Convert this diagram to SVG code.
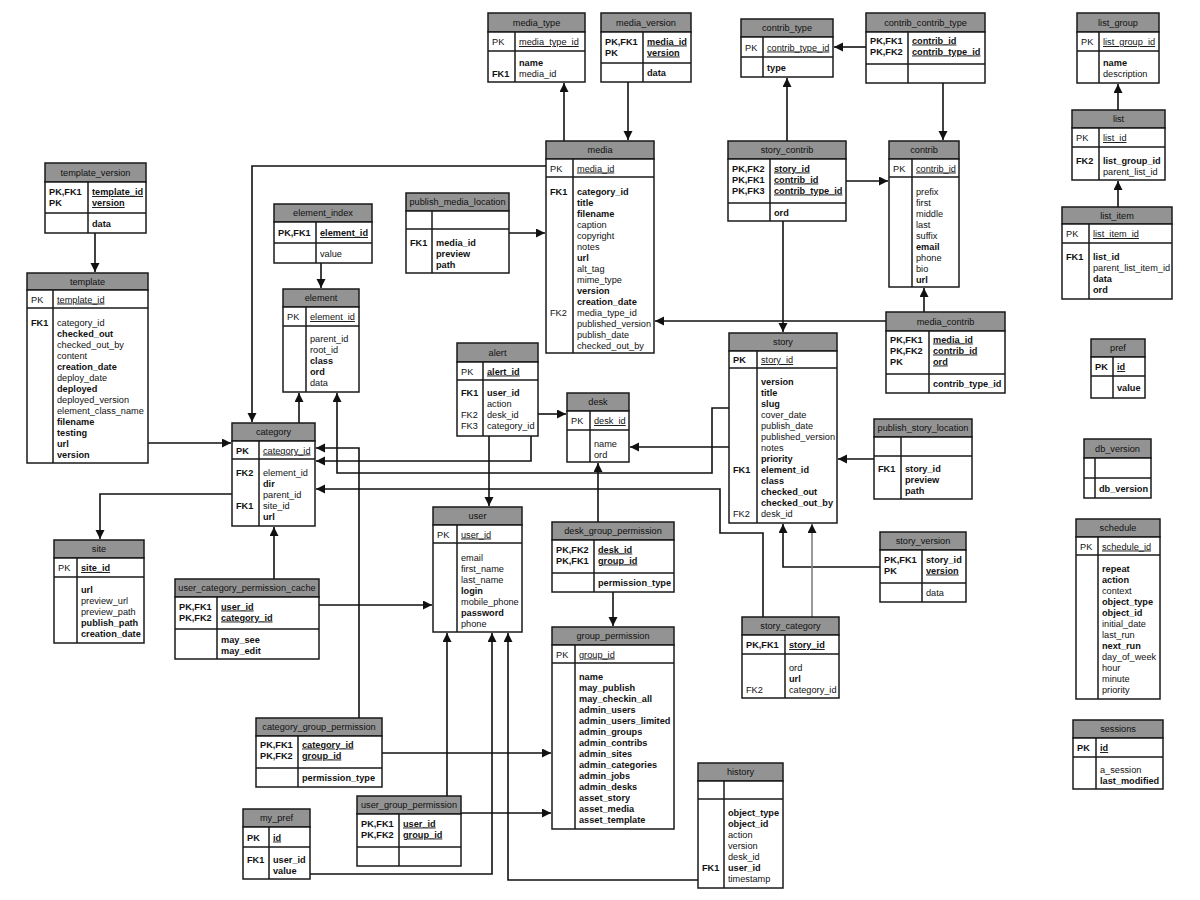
<svg xmlns="http://www.w3.org/2000/svg" width="1200" height="900" viewBox="0 0 1200 900">
<defs>
<style>
.hd{fill:#939393;stroke:#1a1a1a;stroke-width:1.5}
.bx{fill:#fff;stroke:#1a1a1a;stroke-width:1.5}
.dv{fill:none;stroke:#1a1a1a;stroke-width:1.5}
text{font-family:"Liberation Sans",Arial,sans-serif;font-size:9.2px;fill:#111}
.h{text-anchor:middle}
.b{font-weight:bold}
.n{font-weight:normal}
.u{text-decoration:underline}
.cn{fill:none;stroke:#111;stroke-width:1.6;marker-end:url(#ar)}
.cg{stroke:#808080}
</style>
<marker id="ar" markerUnits="userSpaceOnUse" markerWidth="10" markerHeight="10" refX="9" refY="4.5" orient="auto">
<path d="M0,0 L9,4.5 L0,9 z" fill="#111"/>
</marker>
</defs>
<rect width="1200" height="900" fill="#fff"/>

<g id="connectors">
<path class="cn" d="M95 233V272"/>
<path class="cn" d="M148 443H231"/>
<path class="cn" d="M546 166H252V422"/>
<path class="cn" d="M321 263V288"/>
<path class="cn" d="M299 423V393"/>
<path class="cn" d="M729 408H712V473H337V393"/>
<path class="cn" d="M729 447H630"/>
<path class="cn" d="M763 617V533H720V489H316"/>
<path class="cn" d="M359 718V448H316"/>
<path class="cn" d="M382 753H551"/>
<path class="cn" d="M461 813H551"/>
<path class="cn" d="M447 796V633"/>
<path class="cn" d="M310 874H492V633"/>
<path class="cn" d="M698 880H508V633"/>
<path class="cn" d="M319 605H432"/>
<path class="cn" d="M274 579V527"/>
<path class="cn" d="M232 494H100V539"/>
<path class="cn" d="M489 436V506"/>
<path class="cn" d="M538 414H566"/>
<path class="cn" d="M531 436V461H316"/>
<path class="cn" d="M598 522V463"/>
<path class="cn" d="M613 592V626"/>
<path class="cn" d="M783 221V332"/>
<path class="cn" d="M787 141V78"/>
<path class="cn" d="M846 181H888"/>
<path class="cn" d="M866 47H834"/>
<path class="cn" d="M943 83V140"/>
<path class="cn" d="M924 312V288"/>
<path class="cn" d="M886 321H655"/>
<path class="cn" d="M874 459H838"/>
<path class="cn" d="M880 567H783V524"/>
<path class="cn cg" d="M812 617V524"/>
<path class="cn" d="M628 82V140"/>
<path class="cn" d="M564 141V83"/>
<path class="cn" d="M509 233H545"/>
<path class="cn" d="M1118 110V84"/>
<path class="cn" d="M1118 207V181"/>
</g>

<g id="template_version">
<rect class="hd" x="45" y="163" width="101" height="19"/>
<rect class="bx" x="45" y="182" width="101" height="51"/>
<path class="dv" d="M45 213H146M88 182V233"/>
<text class="h" x="95.5" y="176">template_version</text>
<text class="b" x="49" y="195">PK,FK1<tspan x="49" dy="11">PK</tspan></text>
<text class="b u" x="92" y="195">template_id<tspan x="92" dy="11">version</tspan></text>
<text class="b" x="92" y="226.5">data</text>
</g>

<g id="template">
<rect class="hd" x="27" y="273" width="121" height="17"/>
<rect class="bx" x="27" y="290" width="121" height="173"/>
<path class="dv" d="M27 308H148M53 290V463"/>
<text class="h" x="87.5" y="285">template</text>
<text x="31" y="302.5">PK</text>
<text class="u" x="57" y="302.5">template_id</text>
<text class="b" x="31" y="325.5">FK1</text>
<text x="57" y="325.5">category_id<tspan class="b" x="57" dy="11">checked_out</tspan><tspan x="57" dy="11">checked_out_by</tspan><tspan x="57" dy="11">content</tspan><tspan class="b" x="57" dy="11">creation_date</tspan><tspan x="57" dy="11">deploy_date</tspan><tspan class="b" x="57" dy="11">deployed</tspan><tspan x="57" dy="11">deployed_version</tspan><tspan x="57" dy="11">element_class_name</tspan><tspan class="b" x="57" dy="11">filename</tspan><tspan class="b" x="57" dy="11">testing</tspan><tspan class="b" x="57" dy="11">url</tspan><tspan class="b" x="57" dy="11">version</tspan></text>
</g>

<g id="element_index">
<rect class="hd" x="274" y="204" width="98" height="18"/>
<rect class="bx" x="274" y="222" width="98" height="41"/>
<path class="dv" d="M274 243H372M316 222V263"/>
<text class="h" x="323" y="216.3">element_index</text>
<text class="b" x="278" y="236">PK,FK1</text>
<text class="b u" x="320" y="236">element_id</text>
<text x="320" y="256.5">value</text>
</g>

<g id="element">
<rect class="hd" x="283" y="289" width="76" height="18"/>
<rect class="bx" x="283" y="307" width="76" height="85"/>
<path class="dv" d="M283 326H359M306 307V392"/>
<text class="h" x="321" y="301.3">element</text>
<text x="287" y="320">PK</text>
<text class="u" x="310" y="320">element_id</text>
<text x="310" y="341.5">parent_id<tspan x="310" dy="11">root_id</tspan><tspan class="b" x="310" dy="11">class</tspan><tspan class="b" x="310" dy="11">ord</tspan><tspan x="310" dy="11">data</tspan></text>
</g>

<g id="category">
<rect class="hd" x="232" y="423" width="83" height="18"/>
<rect class="bx" x="232" y="441" width="83" height="85"/>
<path class="dv" d="M232 459H315M259 441V526"/>
<text class="h" x="273.5" y="435.3">category</text>
<text class="b" x="236" y="453.5">PK</text>
<text class="u" x="263" y="453.5">category_id</text>
<text class="b" x="236" y="475.5">FK2</text>
<text class="b" x="236" y="508.5">FK1</text>
<text x="263" y="475.5">element_id<tspan class="b" x="263" dy="11">dir</tspan><tspan x="263" dy="11">parent_id</tspan><tspan x="263" dy="11">site_id</tspan><tspan class="b" x="263" dy="11">url</tspan></text>
</g>

<g id="site">
<rect class="hd" x="54" y="540" width="90" height="18"/>
<rect class="bx" x="54" y="558" width="90" height="85"/>
<path class="dv" d="M54 577H144M77 558V643"/>
<text class="h" x="99" y="552.3">site</text>
<text x="58" y="571">PK</text>
<text class="b u" x="81" y="571">site_id</text>
<text class="b" x="81" y="592.5">url<tspan class="n" x="81" dy="11">preview_url</tspan><tspan class="n" x="81" dy="11">preview_path</tspan><tspan x="81" dy="11">publish_path</tspan><tspan x="81" dy="11">creation_date</tspan></text>
</g>

<g id="user_category_permission_cache">
<rect class="hd" x="175" y="579" width="144" height="18"/>
<rect class="bx" x="175" y="597" width="144" height="62"/>
<path class="dv" d="M175 629H319M217 597V659"/>
<text class="h" x="247" y="591.3">user_category_permission_cache</text>
<text class="b" x="179" y="609.5">PK,FK1<tspan x="179" dy="11">PK,FK2</tspan></text>
<text class="b u" x="221" y="609.5">user_id<tspan x="221" dy="11">category_id</tspan></text>
<text class="b" x="221" y="642.5">may_see<tspan x="221" dy="11">may_edit</tspan></text>
</g>

<g id="media_type">
<rect class="hd" x="488" y="13" width="97" height="19"/>
<rect class="bx" x="488" y="32" width="97" height="50"/>
<path class="dv" d="M488 51H585M515 32V82"/>
<text class="h" x="536.5" y="25.8">media_type</text>
<text x="492" y="45">PK</text>
<text class="u" x="519" y="45">media_type_id</text>
<text class="b" x="492" y="76.5">FK1</text>
<text class="b" x="519" y="65.5">name<tspan class="n" x="519" dy="11">media_id</tspan></text>
</g>

<g id="media_version">
<rect class="hd" x="601" y="13" width="90" height="19"/>
<rect class="bx" x="601" y="32" width="90" height="50"/>
<path class="dv" d="M601 63H691M643 32V82"/>
<text class="h" x="646" y="25.8">media_version</text>
<text class="b" x="605" y="44.5">PK,FK1<tspan x="605" dy="11">PK</tspan></text>
<text class="b u" x="647" y="44.5">media_id<tspan x="647" dy="11">version</tspan></text>
<text class="b" x="647" y="76">data</text>
</g>

<g id="media">
<rect class="hd" x="546" y="141" width="108" height="18"/>
<rect class="bx" x="546" y="159" width="108" height="194"/>
<path class="dv" d="M546 177H654M573 159V353"/>
<text class="h" x="600" y="153.3">media</text>
<text x="550" y="171.5">PK</text>
<text class="u" x="577" y="171.5">media_id</text>
<text class="b" x="550" y="194.5">FK1</text>
<text x="550" y="315.5">FK2</text>
<text class="b" x="577" y="194.5">category_id<tspan x="577" dy="11">title</tspan><tspan x="577" dy="11">filename</tspan><tspan class="n" x="577" dy="11">caption</tspan><tspan class="n" x="577" dy="11">copyright</tspan><tspan class="n" x="577" dy="11">notes</tspan><tspan x="577" dy="11">url</tspan><tspan class="n" x="577" dy="11">alt_tag</tspan><tspan class="n" x="577" dy="11">mime_type</tspan><tspan x="577" dy="11">version</tspan><tspan x="577" dy="11">creation_date</tspan><tspan class="n" x="577" dy="11">media_type_id</tspan><tspan class="n" x="577" dy="11">published_version</tspan><tspan class="n" x="577" dy="11">publish_date</tspan><tspan class="n" x="577" dy="11">checked_out_by</tspan></text>
</g>

<g id="publish_media_location">
<rect class="hd" x="406" y="193" width="103" height="18"/>
<rect class="bx" x="406" y="211" width="103" height="62"/>
<path class="dv" d="M406 229H509M432 211V273"/>
<text class="h" x="457.5" y="205.3">publish_media_location</text>
<text class="b" x="410" y="245.5">FK1</text>
<text class="b" x="436" y="245.5">media_id<tspan x="436" dy="11">preview</tspan><tspan x="436" dy="11">path</tspan></text>
</g>

<g id="alert">
<rect class="hd" x="457" y="343" width="81" height="19"/>
<rect class="bx" x="457" y="362" width="81" height="74"/>
<path class="dv" d="M457 380H538M483 362V436"/>
<text class="h" x="497.5" y="355.8">alert</text>
<text x="461" y="374.5">PK</text>
<text class="b u" x="487" y="374.5">alert_id</text>
<text class="b" x="461" y="395.5">FK1</text>
<text x="461" y="417.5">FK2<tspan x="461" dy="11">FK3</tspan></text>
<text x="487" y="395.5"><tspan class="b">user_id</tspan><tspan x="487" dy="11">action</tspan><tspan x="487" dy="11">desk_id</tspan><tspan x="487" dy="11">category_id</tspan></text>
</g>

<g id="desk">
<rect class="hd" x="567" y="393" width="62" height="18"/>
<rect class="bx" x="567" y="411" width="62" height="51"/>
<path class="dv" d="M567 430H629M590 411V462"/>
<text class="h" x="598" y="405.3">desk</text>
<text x="571" y="424">PK</text>
<text class="u" x="594" y="424">desk_id</text>
<text x="594" y="446.5">name<tspan x="594" dy="11">ord</tspan></text>
</g>

<g id="user">
<rect class="hd" x="433" y="507" width="89" height="18"/>
<rect class="bx" x="433" y="525" width="89" height="107"/>
<path class="dv" d="M433 543H522M457 525V632"/>
<text class="h" x="477.5" y="519.3">user</text>
<text x="437" y="537.5">PK</text>
<text class="u" x="461" y="537.5">user_id</text>
<text x="461" y="560.5">email<tspan x="461" dy="11">first_name</tspan><tspan x="461" dy="11">last_name</tspan><tspan class="b" x="461" dy="11">login</tspan><tspan x="461" dy="11">mobile_phone</tspan><tspan class="b" x="461" dy="11">password</tspan><tspan x="461" dy="11">phone</tspan></text>
</g>

<g id="desk_group_permission">
<rect class="hd" x="552" y="522" width="122" height="18"/>
<rect class="bx" x="552" y="540" width="122" height="52"/>
<path class="dv" d="M552 573H674M594 540V592"/>
<text class="h" x="613" y="534.3">desk_group_permission</text>
<text class="b" x="556" y="552.5">PK,FK2<tspan x="556" dy="11">PK,FK1</tspan></text>
<text class="b u" x="598" y="552.5">desk_id<tspan x="598" dy="11">group_id</tspan></text>
<text class="b" x="598" y="586">permission_type</text>
</g>

<g id="group_permission">
<rect class="hd" x="552" y="627" width="122" height="18"/>
<rect class="bx" x="552" y="645" width="122" height="184"/>
<path class="dv" d="M552 663H674M575 645V829"/>
<text class="h" x="613" y="639.3">group_permission</text>
<text x="556" y="657.5">PK</text>
<text class="u" x="579" y="657.5">group_id</text>
<text class="b" x="579" y="679.5">name<tspan x="579" dy="11">may_publish</tspan><tspan x="579" dy="11">may_checkin_all</tspan><tspan x="579" dy="11">admin_users</tspan><tspan x="579" dy="11">admin_users_limited</tspan><tspan x="579" dy="11">admin_groups</tspan><tspan x="579" dy="11">admin_contribs</tspan><tspan x="579" dy="11">admin_sites</tspan><tspan x="579" dy="11">admin_categories</tspan><tspan x="579" dy="11">admin_jobs</tspan><tspan x="579" dy="11">admin_desks</tspan><tspan x="579" dy="11">asset_story</tspan><tspan x="579" dy="11">asset_media</tspan><tspan x="579" dy="11">asset_template</tspan></text>
</g>

<g id="category_group_permission">
<rect class="hd" x="256" y="718" width="126" height="18"/>
<rect class="bx" x="256" y="736" width="126" height="51"/>
<path class="dv" d="M256 768H382M298 736V787"/>
<text class="h" x="319" y="730.3">category_group_permission</text>
<text class="b" x="260" y="747.5">PK,FK1<tspan x="260" dy="11">PK,FK2</tspan></text>
<text class="b u" x="302" y="747.5">category_id<tspan x="302" dy="11">group_id</tspan></text>
<text class="b" x="302" y="781">permission_type</text>
</g>

<g id="user_group_permission">
<rect class="hd" x="357" y="796" width="104" height="18"/>
<rect class="bx" x="357" y="814" width="104" height="52"/>
<path class="dv" d="M357 847H461M399 814V866"/>
<text class="h" x="409" y="808.3">user_group_permission</text>
<text class="b" x="361" y="826.5">PK,FK1<tspan x="361" dy="11">PK,FK2</tspan></text>
<text class="b u" x="403" y="826.5">user_id<tspan x="403" dy="11">group_id</tspan></text>
</g>

<g id="my_pref">
<rect class="hd" x="243" y="809" width="67" height="18"/>
<rect class="bx" x="243" y="827" width="67" height="52"/>
<path class="dv" d="M243 847H310M269 827V879"/>
<text class="h" x="276.5" y="821.3">my_pref</text>
<text class="b" x="247" y="840.5">PK</text>
<text class="b u" x="273" y="840.5">id</text>
<text class="b" x="247" y="862.5">FK1</text>
<text class="b" x="273" y="862.5">user_id<tspan x="273" dy="11">value</tspan></text>
</g>

<g id="history">
<rect class="hd" x="698" y="763" width="85" height="18"/>
<rect class="bx" x="698" y="781" width="85" height="107"/>
<path class="dv" d="M698 799H783M724 781V888"/>
<text class="h" x="740.5" y="775.3">history</text>
<text class="b" x="702" y="870.5">FK1</text>
<text class="b" x="728" y="815.5">object_type<tspan x="728" dy="11">object_id</tspan><tspan class="n" x="728" dy="11">action</tspan><tspan class="n" x="728" dy="11">version</tspan><tspan class="n" x="728" dy="11">desk_id</tspan><tspan x="728" dy="11">user_id</tspan><tspan class="n" x="728" dy="11">timestamp</tspan></text>
</g>

<g id="contrib_type">
<rect class="hd" x="741" y="19" width="92" height="18"/>
<rect class="bx" x="741" y="37" width="92" height="40"/>
<path class="dv" d="M741 57H833M763 37V77"/>
<text class="h" x="787" y="31.3">contrib_type</text>
<text x="745" y="50.5">PK</text>
<text class="u" x="767" y="50.5">contrib_type_id</text>
<text class="b" x="767" y="70.5">type</text>
</g>

<g id="contrib_contrib_type">
<rect class="hd" x="866" y="13" width="119" height="19"/>
<rect class="bx" x="866" y="32" width="119" height="51"/>
<path class="dv" d="M866 64H985M908 32V83"/>
<text class="h" x="925.5" y="25.8">contrib_contrib_type</text>
<text class="b" x="870" y="43.5">PK,FK1<tspan x="870" dy="11">PK,FK2</tspan></text>
<text class="b u" x="912" y="43.5">contrib_id<tspan x="912" dy="11">contrib_type_id</tspan></text>
</g>

<g id="story_contrib">
<rect class="hd" x="728" y="141" width="118" height="18"/>
<rect class="bx" x="728" y="159" width="118" height="62"/>
<path class="dv" d="M728 203H846M770 159V221"/>
<text class="h" x="787" y="153.3">story_contrib</text>
<text class="b" x="732" y="171.5">PK,FK2<tspan x="732" dy="11">PK,FK1</tspan><tspan x="732" dy="11">PK,FK3</tspan></text>
<text class="b u" x="774" y="171.5">story_id<tspan x="774" dy="11">contrib_id</tspan><tspan x="774" dy="11">contrib_type_id</tspan></text>
<text class="b" x="774" y="215.5">ord</text>
</g>

<g id="contrib">
<rect class="hd" x="889" y="141" width="70" height="18"/>
<rect class="bx" x="889" y="159" width="70" height="128"/>
<path class="dv" d="M889 177H959M912 159V287"/>
<text class="h" x="924" y="153.3">contrib</text>
<text x="893" y="171.5">PK</text>
<text class="u" x="916" y="171.5">contrib_id</text>
<text x="916" y="194.5">prefix<tspan x="916" dy="11">first</tspan><tspan x="916" dy="11">middle</tspan><tspan x="916" dy="11">last</tspan><tspan x="916" dy="11">suffix</tspan><tspan class="b" x="916" dy="11">email</tspan><tspan x="916" dy="11">phone</tspan><tspan x="916" dy="11">bio</tspan><tspan class="b" x="916" dy="11">url</tspan></text>
</g>

<g id="story">
<rect class="hd" x="729" y="333" width="108" height="18"/>
<rect class="bx" x="729" y="351" width="108" height="172"/>
<path class="dv" d="M729 368H837M757 351V523"/>
<text class="h" x="783" y="345.3">story</text>
<text class="b" x="733" y="363">PK</text>
<text class="u" x="761" y="363">story_id</text>
<text class="b" x="733" y="472.5">FK1</text>
<text x="733" y="516.5">FK2</text>
<text class="b" x="761" y="384.5">version<tspan x="761" dy="11">title</tspan><tspan x="761" dy="11">slug</tspan><tspan class="n" x="761" dy="11">cover_date</tspan><tspan class="n" x="761" dy="11">publish_date</tspan><tspan class="n" x="761" dy="11">published_version</tspan><tspan class="n" x="761" dy="11">notes</tspan><tspan x="761" dy="11">priority</tspan><tspan x="761" dy="11">element_id</tspan><tspan x="761" dy="11">class</tspan><tspan x="761" dy="11">checked_out</tspan><tspan x="761" dy="11">checked_out_by</tspan><tspan class="n" x="761" dy="11">desk_id</tspan></text>
</g>

<g id="media_contrib">
<rect class="hd" x="886" y="312" width="119" height="19"/>
<rect class="bx" x="886" y="331" width="119" height="62"/>
<path class="dv" d="M886 374H1005M929 331V393"/>
<text class="h" x="945.5" y="324.8">media_contrib</text>
<text class="b" x="890" y="342.5">PK,FK1<tspan x="890" dy="11">PK,FK2</tspan><tspan x="890" dy="11">PK</tspan></text>
<text class="b u" x="933" y="342.5">media_id<tspan x="933" dy="11">contrib_id</tspan><tspan x="933" dy="11">ord</tspan></text>
<text class="b" x="933" y="387">contrib_type_id</text>
</g>

<g id="publish_story_location">
<rect class="hd" x="874" y="419" width="98" height="18"/>
<rect class="bx" x="874" y="437" width="98" height="62"/>
<path class="dv" d="M874 456H972M901 437V499"/>
<text class="h" x="923" y="431.3">publish_story_location</text>
<text class="b" x="878" y="471.5">FK1</text>
<text class="b" x="905" y="471.5">story_id<tspan x="905" dy="11">preview</tspan><tspan x="905" dy="11">path</tspan></text>
</g>

<g id="story_version">
<rect class="hd" x="880" y="532" width="86" height="18"/>
<rect class="bx" x="880" y="550" width="86" height="52"/>
<path class="dv" d="M880 583H966M922 550V602"/>
<text class="h" x="923" y="544.3">story_version</text>
<text class="b" x="884" y="562.5">PK,FK1<tspan x="884" dy="11">PK</tspan></text>
<text class="b" x="926" y="562.5">story_id<tspan class="u" x="926" dy="11">version</tspan></text>
<text x="926" y="596">data</text>
</g>

<g id="story_category">
<rect class="hd" x="742" y="617" width="97" height="18"/>
<rect class="bx" x="742" y="635" width="97" height="63"/>
<path class="dv" d="M742 654H839M785 635V698"/>
<text class="h" x="790.5" y="629.3">story_category</text>
<text class="b" x="746" y="648">PK,FK1</text>
<text class="b u" x="789" y="648">story_id</text>
<text x="746" y="692.5">FK2</text>
<text x="789" y="670.5">ord<tspan class="b" x="789" dy="11">url</tspan><tspan x="789" dy="11">category_id</tspan></text>
</g>

<g id="list_group">
<rect class="hd" x="1077" y="13" width="82" height="19"/>
<rect class="bx" x="1077" y="32" width="82" height="51"/>
<path class="dv" d="M1077 51H1159M1099 32V83"/>
<text class="h" x="1118" y="25.8">list_group</text>
<text x="1081" y="45">PK</text>
<text class="u" x="1103" y="45">list_group_id</text>
<text class="b" x="1103" y="65.5">name<tspan class="n" x="1103" dy="11">description</tspan></text>
</g>

<g id="list">
<rect class="hd" x="1072" y="110" width="93" height="18"/>
<rect class="bx" x="1072" y="128" width="93" height="52"/>
<path class="dv" d="M1072 147H1165M1099 128V180"/>
<text class="h" x="1118.5" y="122.3">list</text>
<text x="1076" y="141">PK</text>
<text class="u" x="1103" y="141">list_id</text>
<text class="b" x="1076" y="163.5">FK2</text>
<text class="b" x="1103" y="163.5">list_group_id<tspan class="n" x="1103" dy="11">parent_list_id</tspan></text>
</g>

<g id="list_item">
<rect class="hd" x="1062" y="207" width="110" height="17"/>
<rect class="bx" x="1062" y="224" width="110" height="75"/>
<path class="dv" d="M1062 243H1172M1089 224V299"/>
<text class="h" x="1117" y="218.8">list_item</text>
<text x="1066" y="237">PK</text>
<text class="u" x="1093" y="237">list_item_id</text>
<text class="b" x="1066" y="259.5">FK1</text>
<text class="b" x="1093" y="259.5">list_id<tspan class="n" x="1093" dy="11">parent_list_item_id</tspan><tspan x="1093" dy="11">data</tspan><tspan x="1093" dy="11">ord</tspan></text>
</g>

<g id="pref">
<rect class="hd" x="1091" y="339" width="54" height="18"/>
<rect class="bx" x="1091" y="357" width="54" height="41"/>
<path class="dv" d="M1091 376H1145M1113 357V398"/>
<text class="h" x="1118" y="351.3">pref</text>
<text class="b" x="1095" y="370">PK</text>
<text class="b u" x="1117" y="370">id</text>
<text class="b" x="1117" y="390.5">value</text>
</g>

<g id="db_version">
<rect class="hd" x="1084" y="439" width="67" height="19"/>
<rect class="bx" x="1084" y="458" width="67" height="40"/>
<path class="dv" d="M1084 478H1151M1095 458V498"/>
<text class="h" x="1117.5" y="451.8">db_version</text>
<text class="b" x="1099" y="491.5">db_version</text>
</g>

<g id="schedule">
<rect class="hd" x="1076" y="519" width="84" height="18"/>
<rect class="bx" x="1076" y="537" width="84" height="162"/>
<path class="dv" d="M1076 555H1160M1098 537V699"/>
<text class="h" x="1118" y="531.3">schedule</text>
<text x="1080" y="549.5">PK</text>
<text class="u" x="1102" y="549.5">schedule_id</text>
<text class="b" x="1102" y="571.5">repeat<tspan x="1102" dy="11">action</tspan><tspan class="n" x="1102" dy="11">context</tspan><tspan x="1102" dy="11">object_type</tspan><tspan x="1102" dy="11">object_id</tspan><tspan class="n" x="1102" dy="11">initial_date</tspan><tspan class="n" x="1102" dy="11">last_run</tspan><tspan x="1102" dy="11">next_run</tspan><tspan class="n" x="1102" dy="11">day_of_week</tspan><tspan class="n" x="1102" dy="11">hour</tspan><tspan class="n" x="1102" dy="11">minute</tspan><tspan class="n" x="1102" dy="11">priority</tspan></text>
</g>

<g id="sessions">
<rect class="hd" x="1073" y="720" width="90" height="18"/>
<rect class="bx" x="1073" y="738" width="90" height="51"/>
<path class="dv" d="M1073 757H1163M1096 738V789"/>
<text class="h" x="1118" y="732.3">sessions</text>
<text class="b" x="1077" y="751">PK</text>
<text class="b u" x="1100" y="751">id</text>
<text x="1100" y="772.5">a_session<tspan class="b" x="1100" dy="11">last_modified</tspan></text>
</g>
</svg>
